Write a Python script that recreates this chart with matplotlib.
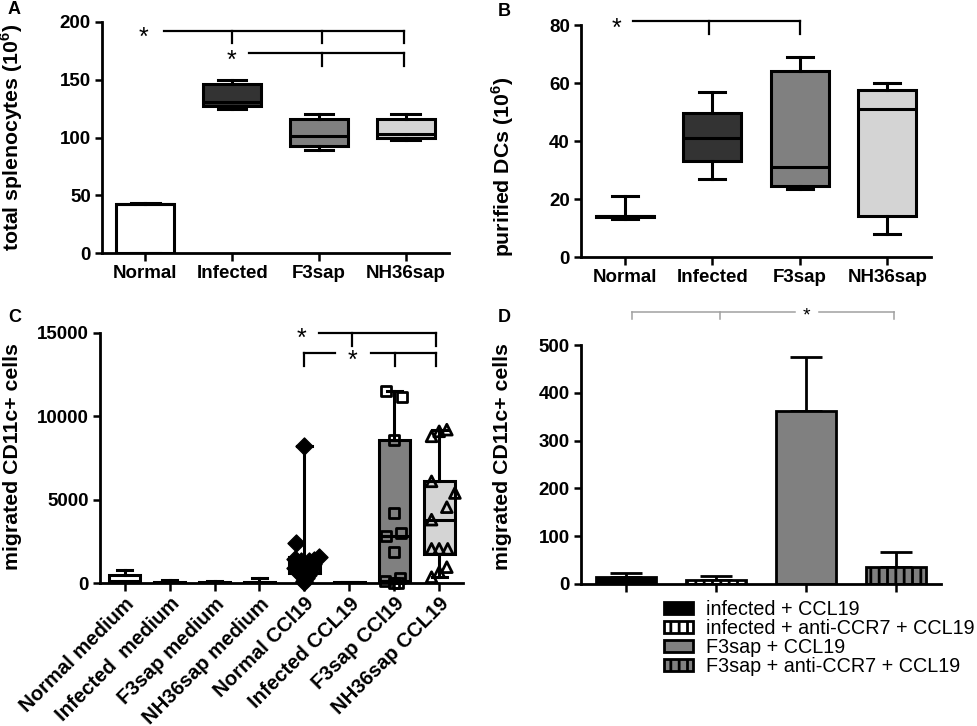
import numpy as np
import matplotlib
matplotlib.use("Agg")
import matplotlib.pyplot as plt

plt.rcParams['font.family'] = ['Liberation Sans', 'DejaVu Sans']
plt.rcParams['font.weight'] = 'bold'
plt.rcParams['hatch.linewidth'] = 2.0
plt.rcParams['mathtext.fontset'] = 'custom'
plt.rcParams['mathtext.rm'] = 'Liberation Sans:bold'
plt.rcParams['mathtext.bf'] = 'Liberation Sans:bold'

# ---------------- data ----------------
# panels A and B share the groups
groups_ab = ['Normal', 'Infected', 'F3sap', 'NH36sap']

# A: total splenocytes (10^6)
a_whislo = [0, 125, 89, 98]
a_q1 = [0, 127, 93, 100]
a_med = [42, 131, 101, 103]
a_q3 = [42, 146, 116, 116]
a_whishi = [43, 149.5, 120, 120]

# B: purified DCs (10^6)
b_whislo = [13, 27, 23.6, 8]
b_q1 = [13.8, 33, 24.5, 14]
b_med = [14, 41, 31, 51]
b_q3 = [14.2, 49.5, 64, 57.5]
b_whishi = [21, 57, 69, 60]

# C: migrated CD11c+ cells
groups_c = ['Normal medium', 'Infected  medium', 'F3sap medium', 'NH36sap medium',
            'Normal CCl19', 'Infected CCL19', 'F3sap CCl19', 'NH36sap CCL19']
c_whislo = [0, 0, 0, 0, 0, 0, 0, 350]
c_q1 = [0, 0, 0, 0, 600, 0, 100, 1750]
c_med = [100, 20, 20, 20, 1000, 20, 2800, 3800]
c_q3 = [480, 60, 60, 60, 1550, 50, 8600, 6150]
c_whishi = [780, 200, 120, 300, 8250, 90, 11500, 9200]

c_pts_normal_ccl19 = [8250, 2400, 1550, 1450, 1400, 1350, 1300, 1200, 1150, 1100,
                      900, 850, 800, 700, 600, 500, 400, 300, 150, 50]
c_pts_f3sap_ccl19 = [11500, 11150, 8600, 4200, 3000, 2800, 1850, 300, 100, 0, 0]
c_pts_nh36sap_ccl19 = [9200, 9100, 8800, 6100, 5400, 4550, 3800, 2050, 2050, 2050, 950, 650, 350]

# D: migrated CD11c+ cells, mean + error
d_labels = ['infected + CCL19', 'infected + anti-CCR7 + CCL19',
            'F3sap + CCL19', 'F3sap + anti-CCR7 + CCL19']
d_mean = [14, 8.5, 361, 36]
d_err = [9.5, 8.2, 113, 30.5]

# ---------------- styles ----------------
box_colors = ['white', '#333333', '#808080', '#d4d4d4']
c_colors = ['white'] * 4 + ['white', 'white', '#808080', '#d4d4d4']
# horizontal scatter of the dots in C (layout only)
jit_normal = [0, -0.18, 0.33, -0.22, 0.22, -0.08, 0.1, -0.15, 0.2, 0.05,
              -0.2, 0.15, -0.05, 0.1, -0.12, 0.08, -0.04, 0.03, 0, 0]
jit_f3 = [-0.18, 0.17, 0, 0, 0.15, -0.18, 0, 0.13, -0.2, 0, 0.08]
jit_nh = [0.17, 0, -0.17, -0.17, 0.35, 0.17, -0.17, -0.17, 0, 0.19, 0.17, 0, -0.17]
d_face = ['black', 'white', '#808080', '#808080']
d_hatch = [None, '||', None, '||']

LW = 2.2
W, H = 978, 726
fig = plt.figure(figsize=(W / 100, H / 100), dpi=100)


def px_axes(l, t, r, b):
    return fig.add_axes([l / W, 1 - b / H, (r - l) / W, (b - t) / H])


def style_axis(ax):
    for s in ['top', 'right']:
        ax.spines[s].set_visible(False)
    for s in ['left', 'bottom']:
        ax.spines[s].set_linewidth(2)
    ax.tick_params(width=1.8, length=5, labelsize=13.5, pad=3)
    ax.tick_params(axis='x', length=6)


def draw_boxes(ax, whislo, q1, med, q3, whishi, colors, width, capw):
    stats = [dict(whislo=a, q1=b, med=c, q3=d, whishi=e)
             for a, b, c, d, e in zip(whislo, q1, med, q3, whishi)]
    props = dict(color='black', linewidth=LW)
    bp = ax.bxp(stats, positions=range(len(stats)), widths=width, capwidths=capw,
                patch_artist=True, showfliers=False, manage_ticks=False,
                boxprops=dict(edgecolor='black', linewidth=LW),
                medianprops=props, whiskerprops=props, capprops=props)
    for patch, c in zip(bp['boxes'], colors):
        patch.set_facecolor(c)


def bracket(ax, xs, y, drops, drop_to, **kw):
    # horizontal line pieces + drops
    for x0, x1 in xs:
        ax.plot([x0, x1], [y, y], clip_on=False, **kw)
    for x in drops:
        ax.plot([x, x], [y, drop_to], clip_on=False, **kw)


def ylab(ax, text, x, y):
    ax.set_ylabel(text, fontsize=15.3, fontweight='bold')
    ax.yaxis.set_label_coords(x, y)


# ---------------- A ----------------
axA = px_axes(102, 22, 449, 253)
draw_boxes(axA, a_whislo, a_q1, a_med, a_q3, a_whishi, box_colors, 0.67, 0.33)
axA.set_xlim(-0.5, 3.5)
axA.set_ylim(0, 200)
axA.set_yticks([0, 50, 100, 150, 200])
axA.set_xticks(range(4))
axA.set_xticklabels(groups_ab)
style_axis(axA)
ylab(axA, 'total splenocytes (10$^{6}$)', -0.222, 0.5)
sig = dict(color='black', lw=1.6)
bracket(axA, [(0.21, 2.98)], 192.5, [1.0, 2.04, 2.98], 181.5, **sig)
bracket(axA, [(1.19, 2.98)], 173, [2.04, 2.98], 162, **sig)
axA.text(-0.02, 186.5, '*', fontsize=18, fontweight='normal', ha='center', va='center')
axA.text(0.99, 166, '*', fontsize=18, fontweight='normal', ha='center', va='center')

# ---------------- B ----------------
axB = px_axes(581, 25, 931, 257)
draw_boxes(axB, b_whislo, b_q1, b_med, b_q3, b_whishi, box_colors, 0.66, 0.3)
axB.set_xlim(-0.5, 3.5)
axB.set_ylim(0, 80)
axB.set_yticks([0, 20, 40, 60, 80])
axB.set_xticks(range(4))
axB.set_xticklabels(groups_ab)
style_axis(axB)
ylab(axB, 'purified DCs (10$^{6}$)', -0.185, 0.39)
bracket(axB, [(0.09, 2.0)], 81.4, [0.96, 2.0], 76.8, **sig)
axB.text(-0.1, 78.7, '*', fontsize=18, fontweight='normal', ha='center', va='center')

# ---------------- C ----------------
axC = px_axes(100, 333, 463, 583)
draw_boxes(axC, c_whislo, c_q1, c_med, c_q3, c_whishi, c_colors, 0.69, 0.33)
axC.scatter(4 + np.array(jit_normal), c_pts_normal_ccl19, marker='D', s=75,
            color='black', zorder=4, clip_on=False)
axC.scatter(6 + np.array(jit_f3), c_pts_f3sap_ccl19, marker='s', s=55,
            facecolor='none', edgecolor='black', linewidth=2, zorder=4, clip_on=False)
axC.scatter(7 + np.array(jit_nh), c_pts_nh36sap_ccl19, marker='^', s=60,
            facecolor='none', edgecolor='black', linewidth=2, zorder=4, clip_on=False)
axC.set_xlim(-0.55, 7.53)
axC.set_ylim(0, 15000)
axC.set_yticks([0, 5000, 10000, 15000])
axC.set_xticks(range(8))
style_axis(axC)
axC.tick_params(axis='x', pad=2)
axC.set_xticklabels(groups_c, rotation=45, ha='right', rotation_mode='anchor', fontsize=14.6)
ylab(axC, 'migrated CD11c+ cells', -0.215, 0.504)
bracket(axC, [(4.33, 6.92)], 15000, [5.07, 6.92], 14200, **sig)
bracket(axC, [(4.0, 4.67), (5.48, 6.92)], 13800, [4.0, 6.02, 6.92], 13050, **sig)
axC.text(3.93, 14650, '*', fontsize=18, fontweight='normal', ha='center', va='center')
axC.text(5.07, 13340, '*', fontsize=18, fontweight='normal', ha='center', va='center')

# ---------------- D ----------------
axD = px_axes(581, 345, 941, 584)
bars = axD.bar(range(4), d_mean, width=0.67, color=d_face, edgecolor='black', linewidth=2, zorder=2)
for patch, h in zip(bars.patches, d_hatch):
    if h:
        patch.set_hatch(h)
axD.errorbar(range(4), d_mean, yerr=[np.zeros(4), d_err], fmt='none', ecolor='black',
             elinewidth=2, capsize=11.5, capthick=2, zorder=1)
axD.set_xlim(-0.5, 3.5)
axD.set_ylim(0, 500)
axD.set_yticks([0, 100, 200, 300, 400, 500])
axD.set_xticks(range(4))
axD.set_xticklabels([])
style_axis(axD)
ylab(axD, 'migrated CD11c+ cells', -0.191, 0.533)
gsig = dict(color='#a0a0a0', lw=1.1)
bracket(axD, [(0.07, 1.88), (2.14, 2.98)], 570, [0.07, 1.04, 2.98], 554, **gsig)
axD.text(2.0, 561, '*', fontsize=14, fontweight='normal', ha='center', va='center')

fig.legend(bars.patches, d_labels, loc='upper left', bbox_to_anchor=(664 / W, 1 - 600 / H),
           frameon=False, prop={'family': 'Liberation Sans', 'weight': 'normal', 'size': 14.2},
           handlelength=1.45, handleheight=0.62, handletextpad=0.7, labelspacing=0.0,
           borderpad=0, borderaxespad=0)

# panel letters
for lx, ly, letter in [(8, 10, 'A'), (498, 11, 'B'), (8, 317, 'C'), (498, 317, 'D')]:
    fig.text(lx / W, 1 - ly / H, letter, fontsize=13, fontweight='bold', ha='left', va='center')

fig.savefig('out.png', dpi=100)
